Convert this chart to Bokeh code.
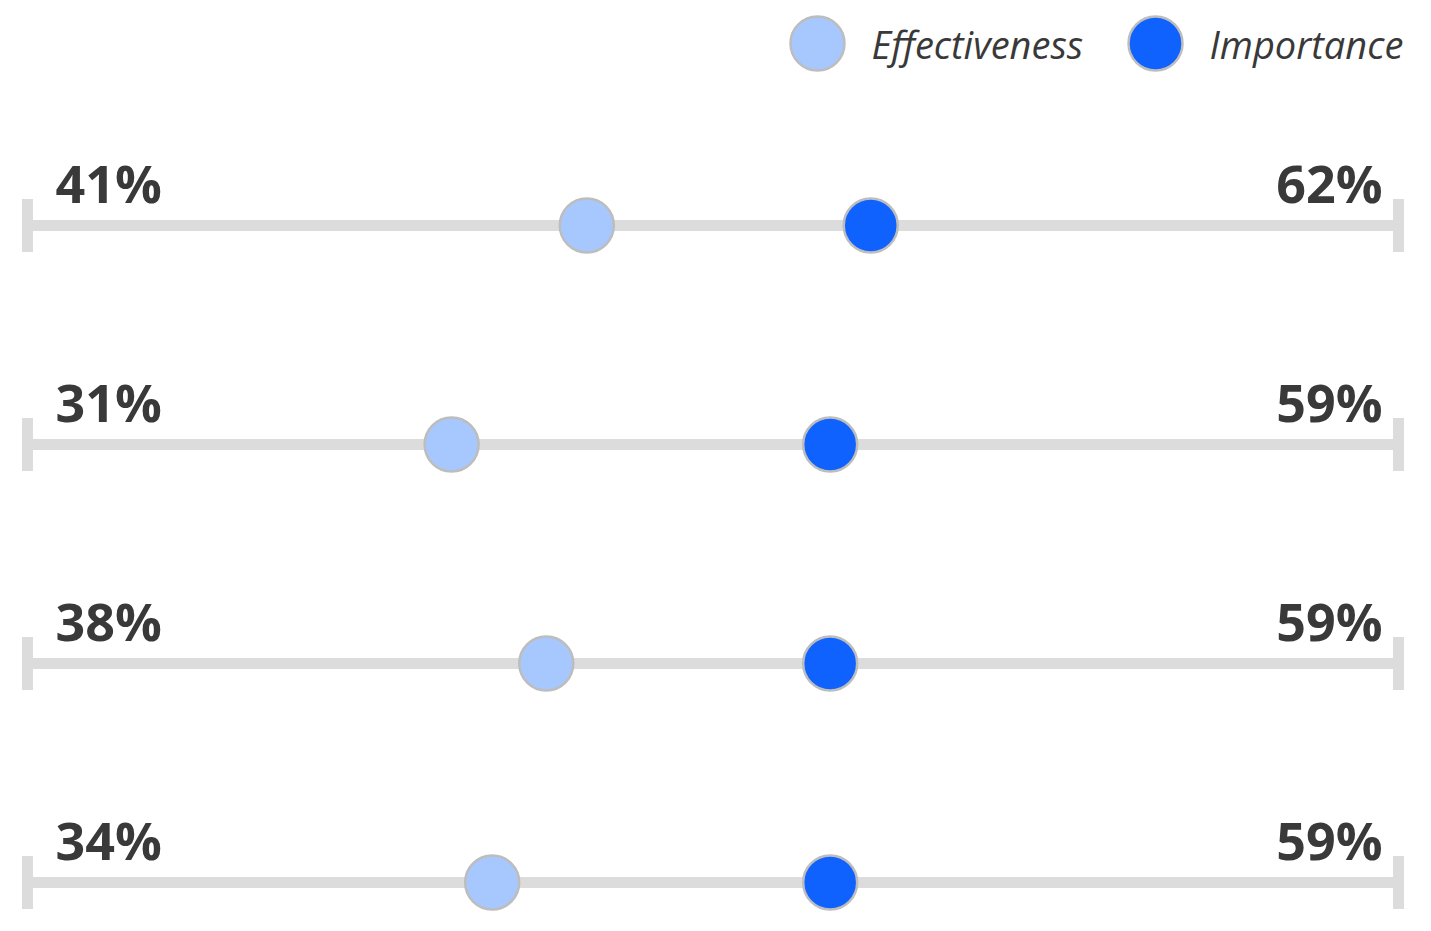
from bokeh.plotting import figure
from bokeh.models import Range1d, ColumnDataSource
from bokeh.embed import file_html
from bokeh.resources import INLINE
from bokeh.core.properties import value

# ---- data ----
rows = [0, 1, 2, 3]
effectiveness = [41, 31, 38, 34]
importance = [62, 59, 59, 59]
series_names = ["Effectiveness", "Importance"]
series_colors = ["#a6c8ff", "#0f62fe"]
scale_min, scale_max = 0, 100

# ---- layout (pixels) ----
W, H = 1431, 931
zero_px, hundred_px = 32, 1384
track_left_px, track_right_px = 27, 1398
ppu = (hundred_px - zero_px) / (scale_max - scale_min)
row_top_px, row_step_px = 225, 219

def px_x(px):
    return scale_min + (px - zero_px) / ppu

def px_y(py):
    return (py - row_top_px) / row_step_px

p = figure(width=W, height=H, output_backend="svg", toolbar_location=None,
           x_range=Range1d(px_x(0), px_x(W)), y_range=Range1d(px_y(H), px_y(0)),
           x_axis_location=None, y_axis_location=None, min_border=0)
p.grid.visible = False
p.outline_line_color = None
p.background_fill_color = "white"
p.border_fill_color = "white"

n = len(rows)
src = ColumnDataSource(dict(
    row=rows, eff=effectiveness, imp=importance,
    lo=[px_x(track_left_px)] * n, hi=[px_x(track_right_px)] * n,
    eff_lbl=[f"{v}%" for v in effectiveness],
    imp_lbl=[f"{v}%" for v in importance],
))

# track lines
p.segment(x0="lo", y0="row", x1="hi", y1="row", source=src,
          line_color="#dcdcdc", line_width=11, line_cap="butt")
# end caps
for col in ["lo", "hi"]:
    p.rect(x=col, y="row", width=11, height=53, width_units="screen",
           height_units="screen", source=src, fill_color="#dcdcdc", line_color=None)

# dots
p.scatter(x="eff", y="row", source=src, size=54, fill_color=series_colors[0],
          line_color="#bdbdbd", line_width=2.5)
p.scatter(x="imp", y="row", source=src, size=54, fill_color=series_colors[1],
          line_color="#bdbdbd", line_width=2.5)

# labels
p.text(x="lo", y="row", text="eff_lbl", source=src, x_offset=28, y_offset=-8,
       text_align="left", text_baseline="bottom", text_color="#393939",
       text_font=value("Open Sans"), text_font_style="bold", text_font_size="52px")
p.text(x="hi", y="row", text="imp_lbl", source=src, x_offset=-16, y_offset=-8,
       text_align="right", text_baseline="bottom", text_color="#393939",
       text_font=value("Open Sans"), text_font_style="bold", text_font_size="52px")

# legend
leg_x = [px_x(817), px_x(1155)]
leg_y = [px_y(43)] * 2
p.scatter(x=leg_x, y=leg_y, size=54, fill_color=series_colors,
          line_color="#bdbdbd", line_width=2.5)
p.text(x=leg_x, y=leg_y, text=series_names, x_offset=54, y_offset=0,
       text_align="left", text_baseline="middle", text_color="#393939",
       text_font=value("Open Sans"), text_font_style="italic", text_font_size="38px")

open("out.html", "w").write(file_html(p, INLINE))
